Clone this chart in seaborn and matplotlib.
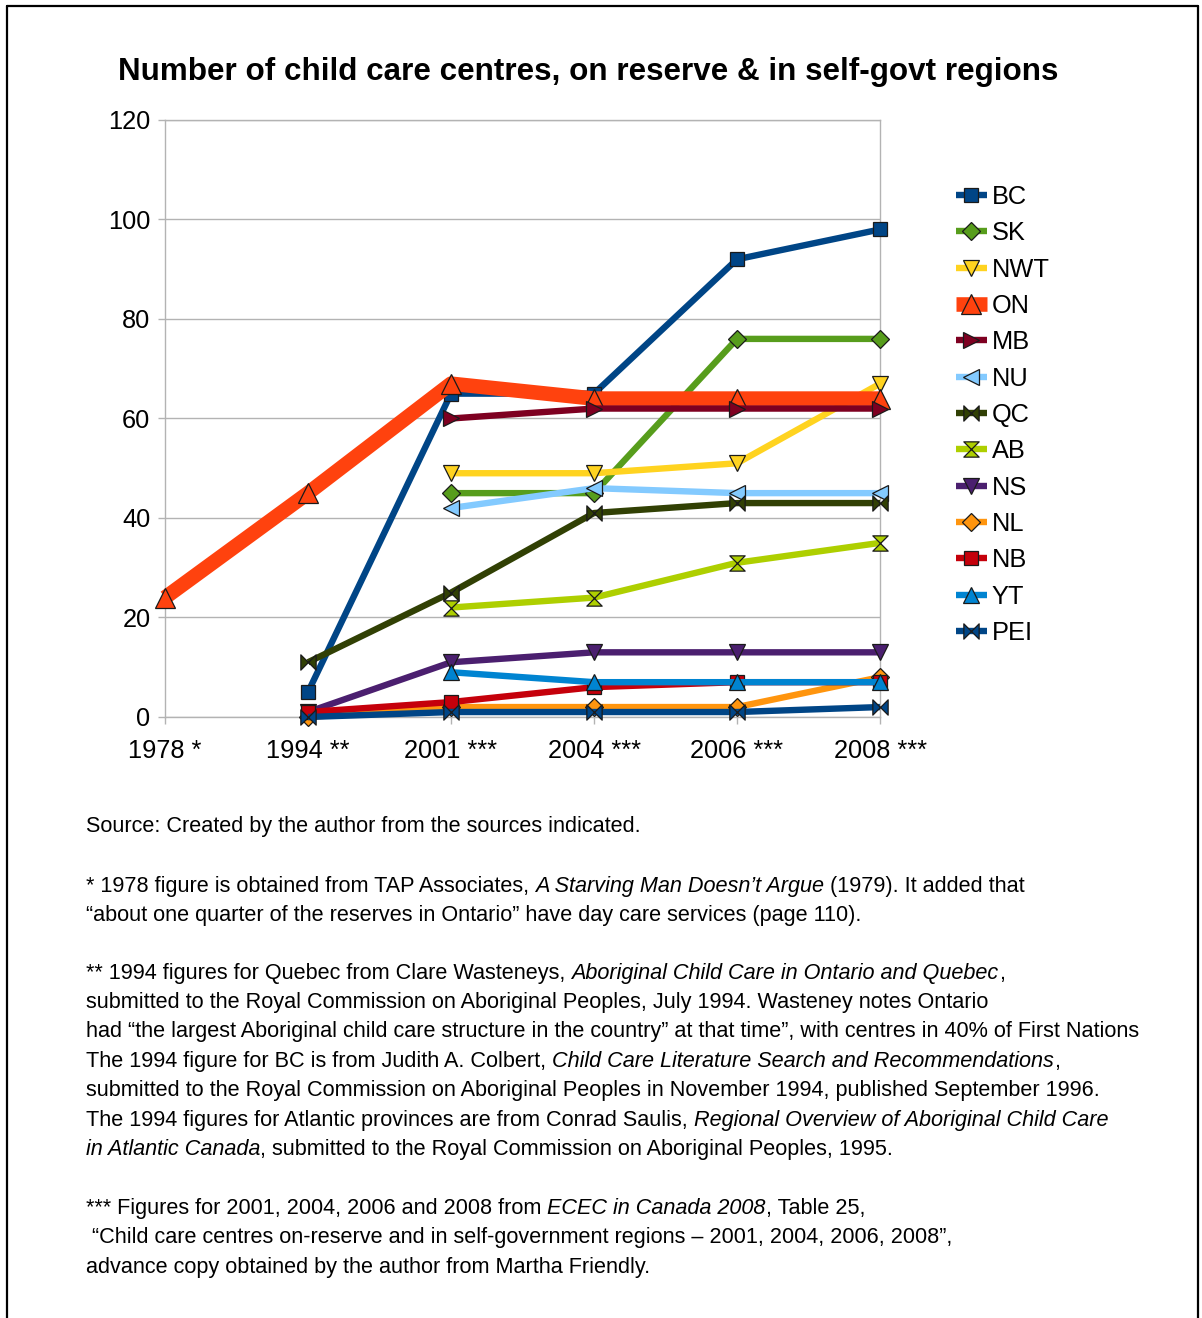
import numpy as np
import pandas as pd
import matplotlib
matplotlib.use("Agg")
import matplotlib.pyplot as plt
from matplotlib.path import Path
from matplotlib.lines import Line2D
import seaborn as sns

# ---- data -------------------------------------------------------------
years = ["1978 *", "1994 **", "2001 ***", "2004 ***", "2006 ***", "2008 ***"]
provinces = ["BC", "SK", "NWT", "ON", "MB", "NU", "QC", "AB", "NS", "NL", "NB", "YT", "PEI"]

BC = [None, 5, 65, 65, 92, 98]
SK = [None, None, 45, 45, 76, 76]
NWT = [None, None, 49, 49, 51, 67]
ON = [24, 45, 67, 64, 64, 64]
MB = [None, None, 60, 62, 62, 62]
NU = [None, None, 42, 46, 45, 45]
QC = [None, 11, 25, 41, 43, 43]
AB = [None, None, 22, 24, 31, 35]
NS = [None, 1, 11, 13, 13, 13]
NL = [None, 0, 2, 2, 2, 8]
NB = [None, 1, 3, 6, 7, 7]
YT = [None, None, 9, 7, 7, 7]
PEI = [None, 0, 1, 1, 1, 2]

series = {"BC": BC, "SK": SK, "NWT": NWT, "ON": ON, "MB": MB, "NU": NU, "QC": QC,
          "AB": AB, "NS": NS, "NL": NL, "NB": NB, "YT": YT, "PEI": PEI}

colors = {"BC": "#004586", "SK": "#579d1c", "NWT": "#ffd320", "ON": "#ff420e",
          "MB": "#7e0021", "NU": "#83caff", "QC": "#314004", "AB": "#aecf00",
          "NS": "#4b1f6f", "NL": "#ff950e", "NB": "#c5000b", "YT": "#0084d1",
          "PEI": "#004586"}

# custom glyphs: horizontal bow-tie and vertical hourglass
bowtie = Path([(-1, -1), (-1, 1), (1, -1), (1, 1), (-1, -1)],
              [Path.MOVETO, Path.LINETO, Path.LINETO, Path.LINETO, Path.CLOSEPOLY])
hourglass = Path([(-1, 1), (1, 1), (-1, -1), (1, -1), (-1, 1)],
                 [Path.MOVETO, Path.LINETO, Path.LINETO, Path.LINETO, Path.CLOSEPOLY])

markers = {"BC": ("s", 10), "SK": ("D", 9.5), "NWT": ("v", 12), "ON": ("^", 15),
           "MB": (">", 12), "NU": ("<", 12), "QC": (bowtie, 11), "AB": (hourglass, 11),
           "NS": ("v", 12), "NL": ("D", 9.5), "NB": ("s", 10), "YT": ("^", 12),
           "PEI": (bowtie, 11)}
widths = {p: 4.6 for p in provinces}
widths["ON"] = 10.5

# ---- figure -----------------------------------------------------------
W, H = 1202, 1318
sns.set_theme(style="white")
plt.rcParams["font.family"] = ["Liberation Sans", "DejaVu Sans"]
plt.rcParams["text.color"] = "black"

fig = plt.figure(figsize=(W / 100, H / 100), dpi=100)
fig.patch.set_facecolor("white")
ax = fig.add_axes([165 / W, 1 - 717 / H, (880 - 165) / W, (717 - 120) / H])

pos = np.arange(len(years))
for i, name in enumerate(provinces):
    df = pd.DataFrame({"pos": pos, "value": series[name]}).dropna()
    m, ms = markers[name]
    sns.lineplot(data=df, x="pos", y="value", ax=ax, color=colors[name],
                 linewidth=widths[name], marker=m, markersize=ms,
                 markeredgecolor="#1a1a1a", markeredgewidth=0.9,
                 solid_capstyle="butt", solid_joinstyle="round",
                 label=name, clip_on=False, zorder=3 + i, estimator=None)

ax.set_xlim(0, len(years) - 1)
ax.set_ylim(0, 120)
ax.set_yticks(range(0, 121, 20))
ax.set_xticks(pos)
ax.set_xticklabels(years)
ax.set_xlabel("")
ax.set_ylabel("")
ax.grid(False)
ax.yaxis.grid(True, color="#b3b3b3", linewidth=1)
ax.set_axisbelow(True)
for s in ax.spines.values():
    s.set_color("#b3b3b3")
    s.set_linewidth(1)
ax.tick_params(axis="both", which="major", length=5, width=1, color="#b3b3b3",
               labelsize=18.3, labelcolor="black", bottom=True, left=True)
ax.tick_params(axis="y", pad=5.5)
ax.tick_params(axis="x", pad=10.5)

fig.text(588 / W, 1 - 72 / H, "Number of child care centres, on reserve & in self-govt regions",
         ha="center", va="center", fontsize=22.6, fontweight="bold", color="black")

handles, labels = ax.get_legend_handles_labels()
leg = ax.legend(handles, labels, loc="upper left", bbox_to_anchor=(956 / W, 1 - 185 / H),
                bbox_transform=fig.transFigure, frameon=False, fontsize=18.3,
                handlelength=1.2, handletextpad=0.2, labelspacing=0.485,
                borderpad=0, borderaxespad=0, numpoints=1)
for t in leg.get_texts():
    t.set_color("black")

# ---- footnotes --------------------------------------------------------
renderer = fig.canvas.get_renderer()
FS = 15.55


def seg_width(txt, style):
    a = fig.text(0, 0, txt + "|", fontsize=FS, style=style)
    b = fig.text(0, 0, "|", fontsize=FS, style=style)
    w = a.get_window_extent(renderer).width - b.get_window_extent(renderer).width
    a.remove()
    b.remove()
    return w


def text_line(y_px, segments):
    x_px = 86
    for txt, ital in segments:
        style = "italic" if ital else "normal"
        fig.text(x_px / W, 1 - y_px / H, txt, fontsize=FS, style=style,
                 ha="left", va="baseline", color="black")
        x_px += seg_width(txt, style)


lines = [
    (832, [("Source: Created by the author from the sources indicated.", False)]),
    (892, [("* 1978 figure is obtained from TAP Associates, ", False),
           ("A Starving Man Doesn\u2019t Argue", True),
           (" (1979). It added that", False)]),
    (921, [("\u201cabout one quarter of the reserves in Ontario\u201d have day care services (page 110).", False)]),
    (979, [("** 1994 figures for Quebec from Clare Wasteneys, ", False),
           ("Aboriginal Child Care in Ontario and Quebec", True), (",", False)]),
    (1008, [("submitted to the Royal Commission on Aboriginal Peoples, July 1994. Wasteney notes Ontario", False)]),
    (1037, [("had \u201cthe largest Aboriginal child care structure in the country\u201d at that time\u201d, with centres in 40% of First Nations", False)]),
    (1067, [("The 1994 figure for BC is from Judith A. Colbert, ", False),
            ("Child Care Literature Search and Recommendations", True), (",", False)]),
    (1096, [("submitted to the Royal Commission on Aboriginal Peoples in November 1994, published September 1996.", False)]),
    (1126, [("The 1994 figures for Atlantic provinces are from Conrad Saulis, ", False),
            ("Regional Overview of Aboriginal Child Care", True)]),
    (1155, [("in Atlantic Canada", True),
            (", submitted to the Royal Commission on Aboriginal Peoples, 1995.", False)]),
    (1214, [("*** Figures for 2001, 2004, 2006 and 2008 from ", False),
            ("ECEC in Canada 2008", True), (", Table 25,", False)]),
    (1243, [(" \u201cChild care centres on-reserve and in self-government regions \u2013 2001, 2004, 2006, 2008\u201d,", False)]),
    (1273, [("advance copy obtained by the author from Martha Friendly.", False)]),
]
for y_px, segs in lines:
    text_line(y_px, segs)

# page frame: left, top and right edges
for xs, ys in [((7, 7), (6, H)), ((7, 1198), (6, 6)), ((1198, 1198), (6, H))]:
    fig.add_artist(Line2D([xs[0] / W, xs[1] / W], [1 - ys[0] / H, 1 - ys[1] / H],
                          transform=fig.transFigure, color="black", linewidth=1.6))

fig.savefig("out.png", dpi=100, facecolor="white")
